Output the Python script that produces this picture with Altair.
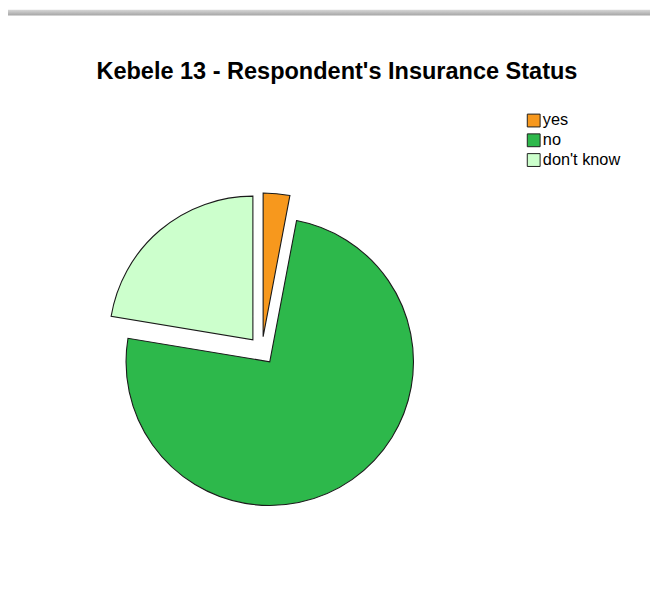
import altair as alt
import pandas as pd

# ---- data ----
categories = ["yes", "no", "don't know"]
counts = [2, 50, 15]
colors = ["#F7981D", "#2DB84B", "#CCFFCC"]
order = list(range(len(categories)))

df = pd.DataFrame({"status": categories, "count": counts, "rank": order})
TOTAL = sum(counts)

W, H = 650, 591
CX, CY = 257, 343
R = 145.5
EXPLODE = 14
FONT = "Liberation Sans"

base = (
    alt.Chart(df)
    .transform_joinaggregate(total="sum(count)")
    .transform_window(cum="sum(count)", sort=[alt.SortField("rank")], frame=[None, 0])
    .transform_calculate(
        start="datum.cum - datum.count",
        midang="2*PI*(datum.cum - datum.count/2)/datum.total",
    )
    .transform_calculate(
        px=f"{CX} + {EXPLODE}*sin(datum.midang)",
        py=f"{CY} - {EXPLODE}*cos(datum.midang)",
    )
)

pie = base.mark_arc(outerRadius=R, stroke="#1a1a1a", strokeWidth=1.1).encode(
    theta=alt.Theta("start:Q", scale=alt.Scale(domain=[0, TOTAL])),
    theta2="cum:Q",
    x=alt.X("px:Q", scale=None, axis=None),
    y=alt.Y("py:Q", scale=None, axis=None),
    color=alt.Color(
        "status:N",
        scale=alt.Scale(domain=categories, range=colors),
        legend=alt.Legend(
            title=None,
            orient="none",
            legendX=524,
            legendY=102,
            symbolType="square",
            symbolSize=169,
            symbolStrokeColor="#1e1e1e",
            symbolStrokeWidth=1,
            labelFont=FONT,
            labelFontSize=16.5,
            labelColor="black",
            rowPadding=2,
            padding=0,
            labelOffset=1,
        ),
    ),
    order=alt.Order("rank:Q"),
)

band = (
    alt.Chart(alt.Data(values=[{"k": 0}]))
    .mark_rect(
        fill=alt.LinearGradient(
            gradient="linear",
            stops=[
                alt.GradientStop(color="#d8d8d8", offset=0),
                alt.GradientStop(color="#a4a4a4", offset=1),
            ],
            x1=0, x2=0, y1=0, y2=1,
        )
    )
    .encode(x=alt.value(0), x2=alt.value(W), y=alt.value(-2), y2=alt.value(4))
)

chart = (
    alt.layer(band, pie)
    .properties(
        width=W,
        height=H,
        autosize=alt.AutoSizeParams(type="none"),
        padding=0,
        background="white",
        title=alt.TitleParams(
            text="Kebele 13 - Respondent's Insurance Status",
            font=FONT,
            fontSize=23.8,
            fontWeight="bold",
            color="black",
            anchor="middle",
            baseline="alphabetic",
            offset=0,
            dy=94,
            dx=8,
        ),
    )
    .configure_view(stroke=None)
)

chart.save("out.html", embed_options={"renderer": "svg", "actions": False})
